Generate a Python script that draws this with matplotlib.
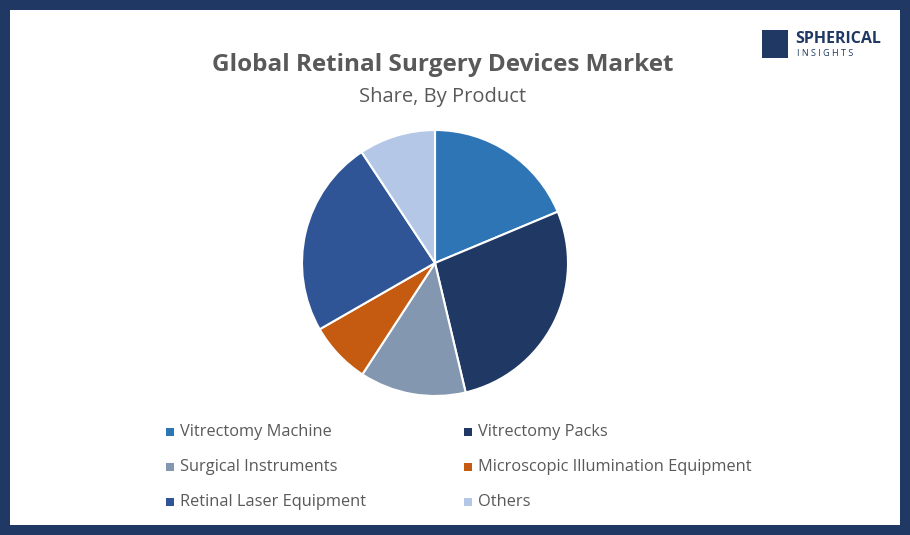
import matplotlib
matplotlib.use("Agg")
import matplotlib.pyplot as plt
from matplotlib.patches import Rectangle

labels = ["Vitrectomy Machine", "Vitrectomy Packs", "Surgical Instruments",
          "Microscopic Illumination Equipment", "Retinal Laser Equipment", "Others"]
values = [18.7, 27.6, 12.9, 7.5, 24.0, 9.3]
colors = ["#2E75B6", "#1F3864", "#8497B0", "#C55A11", "#2F5597", "#B4C7E7"]

fig = plt.figure(figsize=(9.1, 5.35), dpi=100)
fig.patch.set_facecolor("#1F3864")
fig.add_artist(Rectangle((10/910, 10/535), 890/910, 515/535, transform=fig.transFigure,
                         facecolor="white", edgecolor="none", zorder=0))

R = 133
ax = fig.add_axes([(435-R)/910, (535-263-R)/535, 2*R/910, 2*R/535])
ax.pie(values, colors=colors, startangle=90, counterclock=False,
       wedgeprops=dict(edgecolor="white", linewidth=1.5))
ax.set_xlim(-1, 1); ax.set_ylim(-1, 1)
ax.set_aspect("equal")
ax.axis("off")

fig.text(443/910, 1-65/535, "Global Retinal Surgery Devices Market", ha="center", va="center",
         fontsize=17.5, fontweight="bold", color="#595959", family="Open Sans")
fig.text(443/910, 1-97/535, "Share, By Product", ha="center", va="center",
         fontsize=14.5, color="#595959", family="Open Sans")

pos = [(167, 432), (465, 432), (167, 467), (465, 467), (167, 502), (465, 502)]
for (x, y), lab, c in zip(pos, labels, colors):
    fig.add_artist(Rectangle(((x-1)/910, 1-(y+4)/535), 8/910, 8/535, transform=fig.transFigure,
                             facecolor=c, edgecolor="none"))
    fig.text((x+13)/910, 1-y/535, lab, ha="left", va="center", fontsize=11.8,
             color="#595959", family="Open Sans")

# logo
fig.add_artist(Rectangle((762/910, 1-58/535), 26/910, 28/535, transform=fig.transFigure,
                         facecolor="#1F3864", edgecolor="none"))
fig.text(795/910, 1-39/535, "SPHERICAL", ha="left", va="center", fontsize=11.5,
         fontweight="bold", color="#1F3864", family="Open Sans")
fig.text(797/910, 1-54/535, "I N S I G H T S", ha="left", va="center", fontsize=6.5,
         color="#1F3864", family="Open Sans")

fig.savefig("out.png", dpi=100, facecolor=fig.get_facecolor())
